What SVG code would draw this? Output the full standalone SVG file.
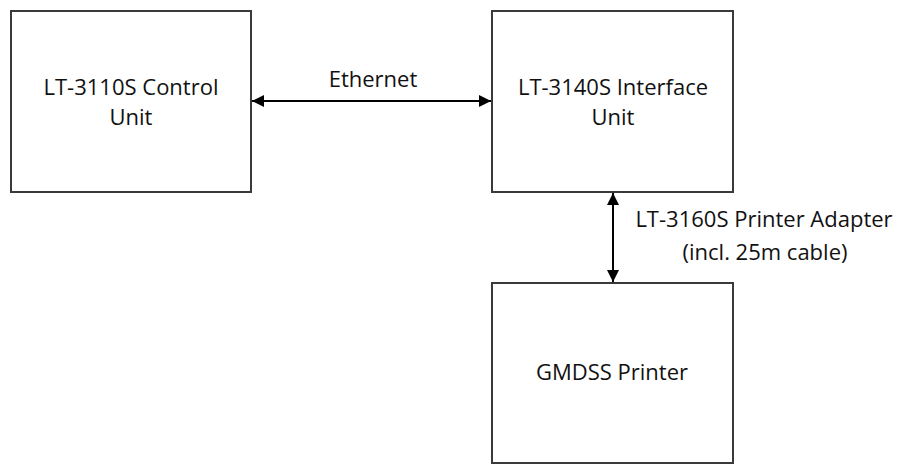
<svg xmlns="http://www.w3.org/2000/svg" width="899" height="466" viewBox="0 0 899 466">
<style>
.box{fill:#fff;stroke:#3a3a3a;stroke-width:2}
.lbl{font-family:"Open Sans","Noto Sans",sans-serif;font-size:22px;fill:#111;text-anchor:middle}
.conn{stroke:#000;stroke-width:2;fill:none}
</style>
<defs>
<marker id="ah" viewBox="0 0 10 10" refX="10" refY="5" markerWidth="7" markerHeight="6" markerUnits="strokeWidth" orient="auto-start-reverse">
<path d="M0,0 L10,5 L0,10 z" fill="#000"/>
</marker>
</defs>
<rect width="899" height="466" fill="#fff"/>
<g id="control-unit">
<rect class="box" x="11" y="11" width="240" height="181"/>
<text class="lbl" x="131" y="95">LT-3110S Control</text>
<text class="lbl" x="131" y="125">Unit</text>
</g>
<g id="interface-unit">
<rect class="box" x="492" y="11" width="241" height="181"/>
<text class="lbl" x="613" y="95">LT-3140S Interface</text>
<text class="lbl" x="613" y="125">Unit</text>
</g>
<g id="gmdss-printer">
<rect class="box" x="492" y="283" width="241" height="180"/>
<text class="lbl" x="612" y="380">GMDSS Printer</text>
</g>
<g id="connectors">
<line class="conn" x1="252" y1="101" x2="491" y2="101" marker-start="url(#ah)" marker-end="url(#ah)"/>
<text class="lbl" x="373" y="87">Ethernet</text>
<line class="conn" x1="613" y1="193" x2="613" y2="282" marker-start="url(#ah)" marker-end="url(#ah)"/>
<text class="lbl" x="764" y="227">LT-3160S Printer Adapter</text>
<text class="lbl" x="765" y="260">(incl. 25m cable)</text>
</g>
</svg>
